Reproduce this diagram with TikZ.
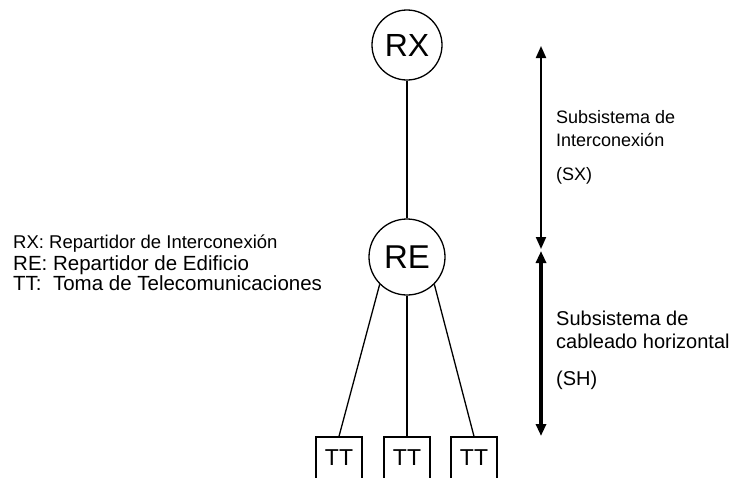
\documentclass[tikz,border=0pt]{standalone}
\usepackage{fontspec}
\setmainfont{Liberation Sans}
\usetikzlibrary{arrows.meta}

\begin{document}
\begin{tikzpicture}[x=1pt,y=-1pt,
    repartidor/.style ={circle, draw, line width=1.3pt, inner sep=0pt},
    toma/.style ={rectangle, draw, line width=1.3pt, minimum width=46pt, minimum height=42pt, inner sep=0pt,
      font=\fontsize{23}{23}\selectfont},
    rotulo/.style ={anchor=base west, inner sep=0pt},
    cota/.style ={{Triangle[length=12pt,width=10pt]}-{Triangle[length=12pt,width=10pt]}}]
   \clip (0,0) rectangle (734,477);

   \node[repartidor, minimum size=70pt, font=\fontsize{32}{32}\selectfont] (RX) at (407,45)  {RX};
   \node[repartidor, minimum size=76pt, font=\fontsize{33}{33}\selectfont] (RE) at (407,257) {RE};
   \node[toma] (T1) at (339,458) {TT};
   \node[toma] (T2) at (407,458) {TT};
   \node[toma] (T3) at (474,458) {TT};

   \draw[line width=1.3pt] (RX) to (RE);
   \draw[line width=1.3pt] (RE.-135) to (T1.north);
   \draw[line width=1.3pt] (RE.south) to (T2.north);
   \draw[line width=1.3pt] (RE.-45) to (T3.north);

   % leyenda
   \node[rotulo, font=\fontsize{18.5}{18.5}\selectfont] (LX) at (13,248) {RX: Repartidor de Interconexión};
   \node[rotulo, font=\fontsize{20.5}{20.5}\selectfont] (LE) at (13,270) {RE: Repartidor de Edificio};
   \node[rotulo, font=\fontsize{20.5}{20.5}\selectfont] (LT) at (13,290) {TT:\ \ Toma de Telecomunicaciones};

   % subsistemas
   \coordinate (SXa) at (541,46);
   \coordinate (SXb) at (541,249);
   \coordinate (SHa) at (541,251);
   \coordinate (SHb) at (541,436);
   \draw[cota, line width=2pt] (SXa) to (SXb);
   \draw[cota, line width=3.5pt] (SHa) to (SHb);

   \node[rotulo, font=\fontsize{18}{18}\selectfont] (SX1) at (556,123) {Subsistema de};
   \node[rotulo, font=\fontsize{18}{18}\selectfont] (SX2) at (556,146) {Interconexión};
   \node[rotulo, font=\fontsize{18}{18}\selectfont] (SX3) at (556,180) {(SX)};
   \node[rotulo, font=\fontsize{20}{20}\selectfont] (SH1) at (556,325) {Subsistema de};
   \node[rotulo, font=\fontsize{20}{20}\selectfont] (SH2) at (556,348) {cableado horizontal};
   \node[rotulo, font=\fontsize{20}{20}\selectfont] (SH3) at (556,385) {(SH)};
 \end{tikzpicture}
\end{document}
